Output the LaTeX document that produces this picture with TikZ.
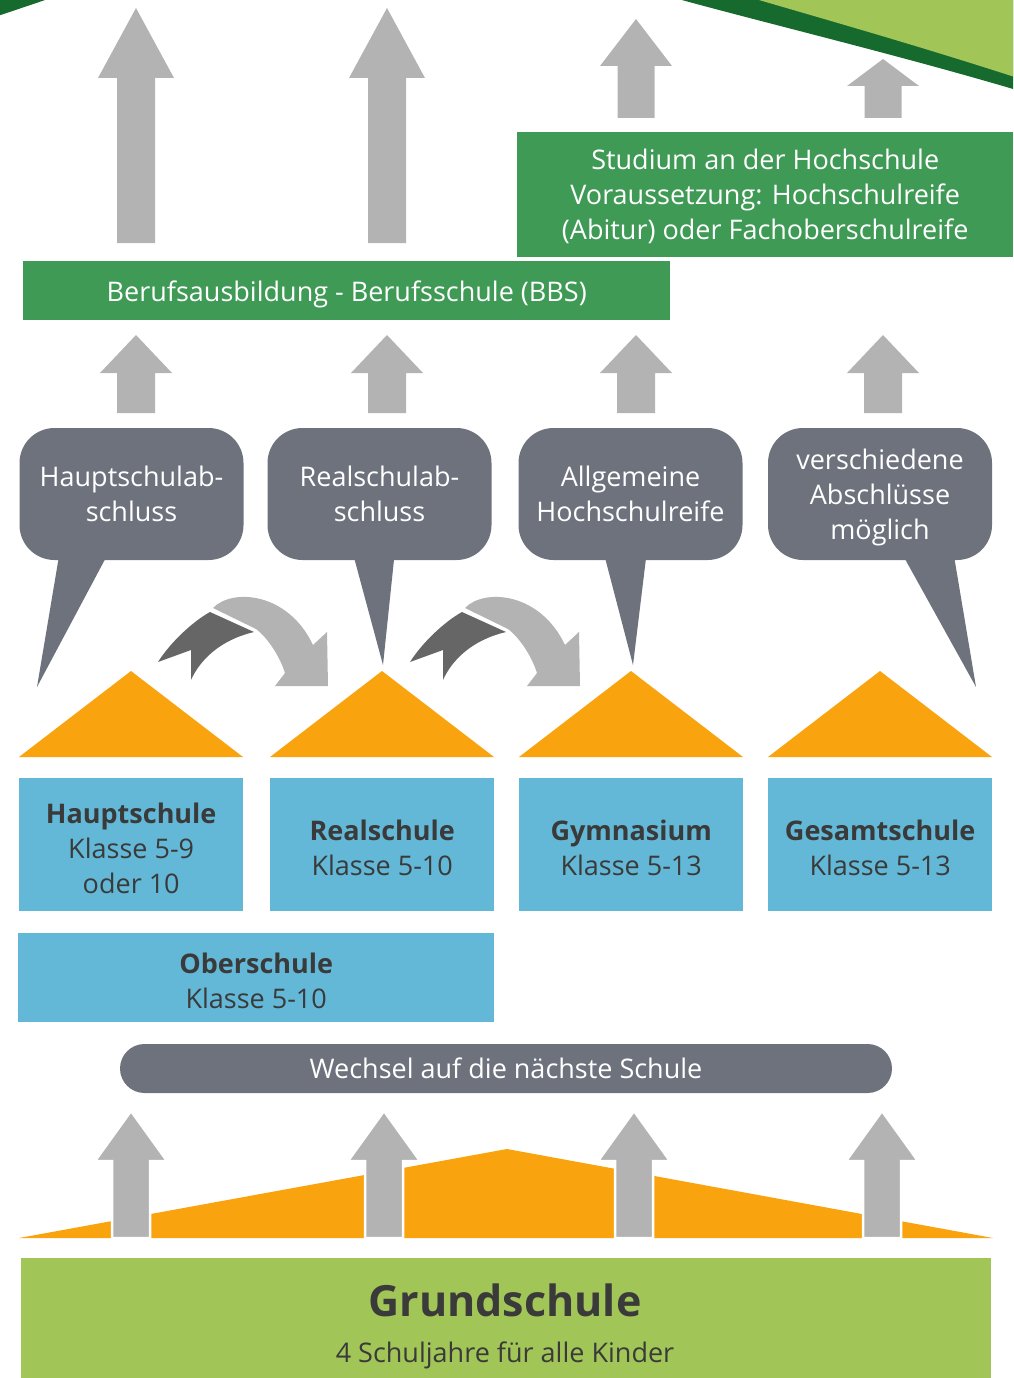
\documentclass[tikz,border=0pt]{standalone}
\usepackage{fontspec}
\setmainfont{Open Sans}
\definecolor{argray}{HTML}{B3B3B3}
\definecolor{ardark}{HTML}{666666}
\definecolor{bubgray}{HTML}{6E727D}
\definecolor{boxgreen}{HTML}{3F9A56}
\definecolor{orng}{HTML}{F9A30F}
\definecolor{blu}{HTML}{62B8D6}
\definecolor{txtdark}{HTML}{3A3A3A}
\definecolor{ltgreen}{HTML}{A2C558}
\definecolor{dkgreen}{HTML}{166A2D}
\newcommand\grarrow[7][]{\fill[argray,#1] (#2,#3) -- ({#2+#6},#4) -- ({#2+#7},#4) -- ({#2+#7},#5) -- ({#2-#7},#5) -- ({#2-#7},#4) -- ({#2-#6},#4) -- cycle;}
\newcommand\topstrut{\rule{0pt}{27pt}}
\begin{document}
\begin{tikzpicture}[x=1pt,y=-1pt,
  bodyfont/.style={font=\fontsize{27}{35}\selectfont},
  greenbox/.style={fill=boxgreen,text=white,bodyfont,align=center,inner sep=0pt,text depth=0pt},
  bubble/.style={fill=bubgray,text=white,bodyfont,align=center,rounded corners=35pt,minimum width=224pt,minimum height=132pt,inner sep=0pt},
  bluebox/.style={fill=blu,text=txtdark,bodyfont,align=center,minimum width=224pt,minimum height=133pt,inner sep=0pt},
  roof/.style={fill=orng},
  curvedark/.style={fill=ardark},
  curvelight/.style={fill=argray}]
\useasboundingbox (0,0) rectangle (1013,1378);
% top-right decoration
\begin{scope}
\clip (0,0) rectangle (1013,1378);
\fill[dkgreen] (-20,-100) -- (-20,22) -- (60,-5) .. controls (200,-50) and (530,-50) .. (660,-6) .. controls (760,22) and (900,55) .. (1030,94) -- (1030,-100) -- cycle;
\fill[ltgreen] (-20,-100) -- (-20,-10) -- (60,-35) .. controls (200,-80) and (600,-60) .. (735,-7) .. controls (820,18) and (920,46) .. (1030,82) -- (1030,-100) -- cycle;
\end{scope}
% top arrows
\grarrow{136}{8}{78}{243}{38}{19}
\grarrow{387}{8}{78}{243}{38}{19}
\grarrow{636}{19}{66}{118}{36}{18.5}
\grarrow{883}{59}{86}{118}{36}{18.5}
% green boxes
\node[greenbox,minimum width=496pt,minimum height=125pt,anchor=north west] (studium) at (517,132) {Studium an der Hochschule\\Voraussetzung: Hochschulreife\\(Abitur) oder Fachoberschulreife};
\node[greenbox,minimum width=647pt,minimum height=59pt,anchor=north west] (bbs) at (23,261) {Berufsausbildung - Berufsschule (BBS)};
% middle arrows
\grarrow{136}{335}{373}{413}{36}{19}
\grarrow{387}{335}{373}{413}{36}{19}
\grarrow{636}{335}{373}{413}{36}{19}
\grarrow{883}{335}{373}{413}{36}{19}
% bubbles
\fill[bubgray] (60,550) -- (110,550) -- (37,687) -- cycle;
\fill[bubgray] (352,550) -- (395,550) -- (383,665) -- cycle;
\fill[bubgray] (603,550) -- (647,550) -- (633,665) -- cycle;
\fill[bubgray] (900,550) -- (953,550) -- (976,687) -- cycle;
\node[bubble] (b1) at (131.5,494) {Hauptschulab-\\schluss};
\node[bubble] (b2) at (379.5,494) {Realschulab-\\schluss};
\node[bubble] (b3) at (630.5,494) {Allgemeine\\Hochschulreife};
\node[bubble,text depth=0pt] (b4) at (880,494) {verschiedene\\Abschlüsse\\möglich};
% curved arrows
\foreach \dx in {0,252}{
\begin{scope}[xshift=\dx pt]
\fill[curvedark] (158,662) -- (191,650) -- (191,680) .. controls (200,660) and (220,640) .. (254,632) -- (210,612) .. controls (192,622) and (170,643) .. (158,662) -- cycle;
\fill[curvelight] (213,608) .. controls (232,588) and (288,592) .. (313,645) -- (327,632) -- (328,686) -- (275,686) -- (285,673) .. controls (280,657) and (268,638) .. (256,629) -- cycle;
\end{scope}}
% roofs
\fill[roof] (131,671) -- (243,757) -- (19,757) -- cycle;
\fill[roof] (382,671) -- (494,757) -- (270,757) -- cycle;
\fill[roof] (631,671) -- (743,757) -- (519,757) -- cycle;
\fill[roof] (880,671) -- (992,757) -- (768,757) -- cycle;
% school boxes
\node[bluebox,anchor=north west] (haupt) at (19,778) {\topstrut\textbf{Hauptschule}\\Klasse 5-9\\oder 10};
\node[bluebox,anchor=north west] (real) at (270,778) {\topstrut\textbf{Realschule}\\Klasse 5-10};
\node[bluebox,anchor=north west] (gym) at (519,778) {\topstrut\textbf{Gymnasium}\\Klasse 5-13};
\node[bluebox,anchor=north west] (ges) at (768,778) {\topstrut\textbf{Gesamtschule}\\Klasse 5-13};
\node[bluebox,anchor=north west,minimum width=476pt,minimum height=89pt] (ober) at (18,933) {\topstrut\textbf{Oberschule}\\Klasse 5-10};
% Wechsel bar
\node[fill=bubgray,text=white,bodyfont,rounded corners=24.5pt,minimum width=772pt,minimum height=49pt,inner sep=0pt] (wechsel) at (506,1068.5) {Wechsel auf die nächste Schule};
% bottom mountain
\fill[roof] (19,1238) -- (507,1149) -- (993,1238) -- cycle;
\grarrow[draw=white,line width=2.5pt]{131}{1111}{1161}{1238}{36}{19}
\grarrow[draw=white,line width=2.5pt]{384}{1111}{1161}{1238}{36}{19}
\grarrow[draw=white,line width=2.5pt]{634}{1111}{1161}{1238}{36}{19}
\grarrow[draw=white,line width=2.5pt]{882}{1111}{1161}{1238}{36}{19}
% Grundschule
\node[fill=ltgreen,minimum width=970pt,minimum height=122pt,anchor=north west,inner sep=0pt] (grund) at (21,1258) {};
\node[text=txtdark,font=\fontsize{43}{50}\selectfont\bfseries,inner sep=0pt] (grundtitle) at (505,1300) {Grundschule};
\node[text=txtdark,font=\fontsize{27}{32}\selectfont,inner sep=0pt] (grundsub) at (505,1355) {4 Schuljahre für alle Kinder};
\end{tikzpicture}
\end{document}
